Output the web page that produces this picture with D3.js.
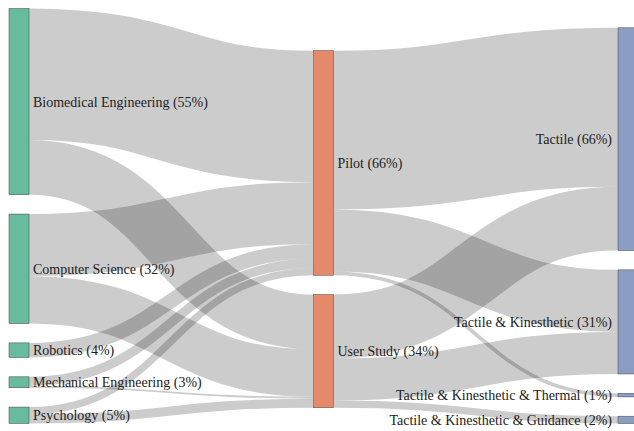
<!DOCTYPE html>
<html>
<head>
<meta charset="utf-8">
<script src="https://cdn.jsdelivr.net/npm/d3@7"></script>
<style>
  html, body { margin: 0; padding: 0; background: #fff; }
  svg { display: block; }
  .label { font-family: "Liberation Serif", "DejaVu Serif", serif; font-size: 14px; fill: #222; }
</style>
</head>
<body>
<svg id="chart" width="634" height="431"></svg>
<script>
// ---- data ----
const disciplines = ["Biomedical Engineering", "Computer Science", "Robotics", "Mechanical Engineering", "Psychology"];
const studyTypes = ["Pilot", "User Study"];
const feedbackTypes = ["Tactile", "Tactile & Kinesthetic", "Tactile & Kinesthetic & Thermal", "Tactile & Kinesthetic & Guidance"];

// [source, target, value]
const disciplineStudyLinks = [
  ["Biomedical Engineering", "Pilot", 36],
  ["Biomedical Engineering", "User Study", 15],
  ["Computer Science", "Pilot", 17],
  ["Computer Science", "User Study", 13],
  ["Robotics", "Pilot", 4],
  ["Mechanical Engineering", "Pilot", 2.5],
  ["Mechanical Engineering", "User Study", 0.5],
  ["Psychology", "Pilot", 2],
  ["Psychology", "User Study", 2.5]
];
const studyFeedbackLinks = [
  ["Pilot", "Tactile", 43.5],
  ["Pilot", "Tactile & Kinesthetic", 17],
  ["Pilot", "Tactile & Kinesthetic & Thermal", 1],
  ["User Study", "Tactile", 17.5],
  ["User Study", "Tactile & Kinesthetic", 11.5],
  ["User Study", "Tactile & Kinesthetic & Guidance", 2]
];
const columnColors = ["#69bb9e", "#e48a6a", "#8b9dc3"];

// ---- small sankey layout (d3-sankey style, justify alignment) ----
function sankeyLayout(graph, opt) {
  const {x0, y0, x1, y1, dx, dy, iterations} = opt;
  const {nodes, links} = graph;
  nodes.forEach((n, i) => { n.index = i; n.sourceLinks = []; n.targetLinks = []; });
  const byId = new Map(nodes.map(n => [n.name, n]));
  links.forEach((l, i) => {
    l.index = i;
    l.source = byId.get(l.source); l.target = byId.get(l.target);
    l.source.sourceLinks.push(l); l.target.targetLinks.push(l);
  });
  nodes.forEach(n => {
    n.value = Math.max(d3.sum(n.sourceLinks, d => d.value), d3.sum(n.targetLinks, d => d.value));
  });
  let current = new Set(nodes), next = new Set, x = 0;
  while (current.size) {
    for (const n of current) { n.depth = x; for (const {target} of n.sourceLinks) next.add(target); }
    ++x; current = next; next = new Set;
  }
  const nCols = d3.max(nodes, d => d.depth) + 1;
  const kx = (x1 - x0 - dx) / (nCols - 1);
  const columns = Array.from({length: nCols}, () => []);
  for (const n of nodes) {
    const i = n.sourceLinks.length ? n.depth : nCols - 1;
    n.layer = i; n.x0 = x0 + i * kx; n.x1 = n.x0 + dx;
    columns[i].push(n);
  }
  const py = Math.min(dy, (y1 - y0) / (d3.max(columns, c => c.length) - 1));

  const ascBreadth = (a, b) => a.y0 - b.y0;
  const ascSource = (a, b) => ascBreadth(a.source, b.source) || a.index - b.index;
  const ascTarget = (a, b) => ascBreadth(a.target, b.target) || a.index - b.index;
  function reorderLinks(col) {
    for (const {sourceLinks, targetLinks} of col) { sourceLinks.sort(ascTarget); targetLinks.sort(ascSource); }
  }
  function reorderNodeLinks({sourceLinks, targetLinks}) {
    for (const {source: {sourceLinks: sl}} of targetLinks) sl.sort(ascTarget);
    for (const {target: {targetLinks: tl}} of sourceLinks) tl.sort(ascSource);
  }
  const ky = d3.min(columns, c => (y1 - y0 - (c.length - 1) * py) / d3.sum(c, d => d.value));
  for (const col of columns) {
    let y = y0;
    for (const n of col) {
      n.y0 = y; n.y1 = y + n.value * ky; y = n.y1 + py;
      for (const l of n.sourceLinks) l.width = l.value * ky;
    }
    y = (y1 - y + py) / (col.length + 1);
    col.forEach((n, i) => { n.y0 += y * (i + 1); n.y1 += y * (i + 1); });
    reorderLinks(col);
  }
  // top of target that makes the link from source horizontal
  function targetTop(source, target) {
    let y = source.y0;
    for (const {target: node, width} of source.sourceLinks) { if (node === target) break; y += width; }
    for (const {source: node, width} of target.targetLinks) { if (node === source) break; y -= width; }
    return y;
  }
  function sourceTop(source, target) {
    let y = target.y0;
    for (const {source: node, width} of target.targetLinks) { if (node === source) break; y += width; }
    for (const {target: node, width} of source.sourceLinks) { if (node === target) break; y -= width; }
    return y;
  }
  // push overlapping nodes down, then back up if the column overflows
  function resolveCollisions(col) {
    col.sort(ascBreadth);
    let y = y0, node;
    for (node of col) {
      const d = y - node.y0;
      if (d > 0) { node.y0 += d; node.y1 += d; }
      y = node.y1 + py;
    }
    const over = y - py - y1;
    if (over > 0) {
      node.y0 -= over; node.y1 -= over; y = node.y0;
      for (let i = col.length - 2; i >= 0; --i) {
        const n = col[i]; const d = n.y1 + py - y;
        if (d > 0) { n.y0 -= d; n.y1 -= d; }
        y = n.y0;
      }
    }
  }
  function relaxLeftToRight(alpha) {
    for (let i = 1; i < columns.length; ++i) {
      const col = columns[i];
      for (const t of col) {
        let y = 0, w = 0;
        for (const {source, value} of t.targetLinks) {
          const v = value * (t.layer - source.layer);
          y += targetTop(source, t) * v; w += v;
        }
        if (!(w > 0)) continue;
        const d = (y / w - t.y0) * alpha;
        t.y0 += d; t.y1 += d; reorderNodeLinks(t);
      }
      resolveCollisions(col);
    }
  }
  function relaxRightToLeft(alpha) {
    for (let i = columns.length - 2; i >= 0; --i) {
      const col = columns[i];
      for (const s of col) {
        let y = 0, w = 0;
        for (const {target, value} of s.sourceLinks) {
          const v = value * (target.layer - s.layer);
          y += sourceTop(s, target) * v; w += v;
        }
        if (!(w > 0)) continue;
        const d = (y / w - s.y0) * alpha;
        s.y0 += d; s.y1 += d; reorderNodeLinks(s);
      }
      resolveCollisions(col);
    }
  }
  for (let i = 0; i < iterations; ++i) {
    const alpha = Math.pow(0.99, i);
    relaxRightToLeft(alpha);
    relaxLeftToRight(alpha);
  }
  reorderLinks(nodes);
  for (const n of nodes) {
    let a = n.y0, b = n.y0;
    for (const l of n.sourceLinks) { l.y0 = a + l.width / 2; a += l.width; }
    for (const l of n.targetLinks) { l.y1 = b + l.width / 2; b += l.width; }
  }
  return {nodes, links, columns};
}

// ---- build graph ----
const groups = [disciplines, studyTypes, feedbackTypes];
const nodes = groups.flatMap((g, gi) => g.map(name => ({name, group: gi})));
const links = [...disciplineStudyLinks, ...studyFeedbackLinks].map(([source, target, value]) => ({source, target, value}));

const W = 634;
const graph = sankeyLayout({nodes, links}, {x0: 9, y0: 8.5, x1: 638, y1: 423.5, dx: 20, dy: 19.3, iterations: 6});

const color = d3.scaleOrdinal().domain([0, 1, 2]).range(columnColors);
const groupTotals = groups.map((g, gi) => d3.sum(graph.nodes.filter(n => n.group === gi), n => n.value));

const svg = d3.select("#chart");

svg.append("g")
    .attr("fill", "none")
    .attr("stroke", "#000")
    .attr("stroke-opacity", 0.2)
  .selectAll("path")
  .data(graph.links)
  .join("path")
    .attr("d", d3.linkHorizontal().source(d => [d.source.x1, d.y0]).target(d => [d.target.x0, d.y1]))
    .attr("stroke-width", d => Math.max(1, d.width));

svg.append("g")
  .selectAll("rect")
  .data(graph.nodes)
  .join("rect")
    .attr("x", d => d.x0)
    .attr("y", d => d.y0)
    .attr("width", d => d.x1 - d.x0)
    .attr("height", d => d.y1 - d.y0)
    .attr("fill", d => color(d.group))
    .attr("stroke", "#444")
    .attr("stroke-width", 0.5);

svg.append("g")
  .selectAll("text")
  .data(graph.nodes)
  .join("text")
    .attr("class", "label")
    .attr("x", d => d.x0 < W / 2 ? d.x1 + 4 : d.x0 - 6)
    .attr("y", d => (d.y0 + d.y1) / 2)
    .attr("dy", "0.35em")
    .attr("text-anchor", d => d.x0 < W / 2 ? "start" : "end")
    .text(d => `${d.name} (${Math.round(d.value / groupTotals[d.group] * 100)}%)`);
</script>
</body>
</html>
